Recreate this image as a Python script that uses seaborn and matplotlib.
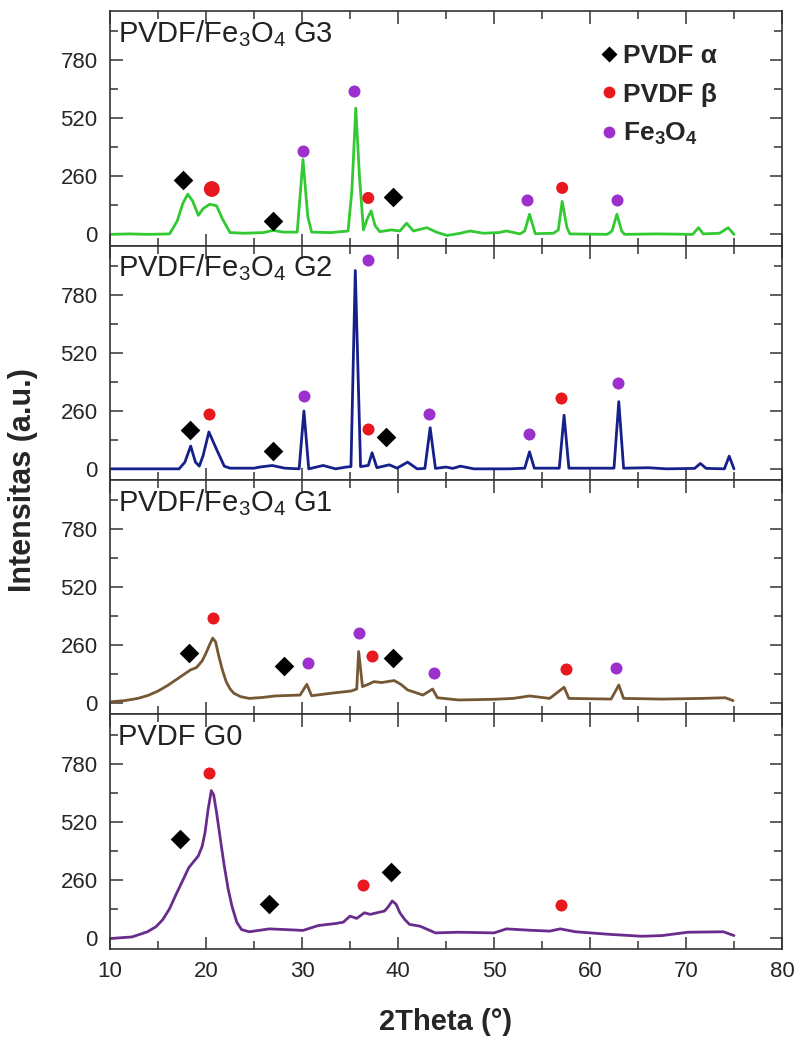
import numpy as np
import pandas as pd
import seaborn as sns
import matplotlib.pyplot as plt
from matplotlib.ticker import MultipleLocator
from matplotlib.lines import Line2D

# XRD curves (2theta, intensity)
g3_x = [10.0, 12, 14, 16.2, 17.0, 17.6, 18.1, 18.6, 19.2, 19.7, 20.4, 21.1, 21.7, 22.5, 24, 26, 27.0, 28, 29.5,
        30.1, 30.6, 31.0, 33, 34.8, 35.2, 35.6, 36.0, 36.4, 36.8, 37.2, 37.6, 38.1, 39.3, 40.2, 40.9, 41.6,
        43.0, 44, 45.1, 46.5, 47.5, 48.9, 50.5, 51.3, 52.7, 53.2, 53.7, 54.3, 56.2, 56.7, 57.1, 57.6, 57.9,
        61.8, 62.3, 62.8, 63.3, 63.6, 67, 70.7, 71.3, 71.8, 73.5, 74.4, 75.0]
g3_y = [0, 2, 0, 2, 60, 140, 180, 150, 85, 115, 135, 128, 70, 8, 5, 8, 18, 10, 10,
        335, 80, 10, 8, 15, 200, 565, 250, 20, 70, 105, 40, 12, 20, 15, 50, 15,
        30, 10, -5, 5, 15, 5, 8, 15, 2, 15, 90, 3, 5, 20, 148, 30, 2,
        0, 15, 90, 15, 0, 2, 0, 30, 2, 5, 30, 0]

g2_x = [10, 17.2, 17.8, 18.4, 18.9, 19.3, 19.7, 20.3, 21.1, 21.9, 22.5, 25.0, 25.6, 26.9, 28.2, 29.7, 30.2,
        30.7, 32.2, 33.5, 34.6, 35.1, 35.55, 36.1, 36.9, 37.3, 37.8, 39.1, 39.9, 41.0, 42.0, 42.8, 43.35,
        43.9, 45.0, 45.7, 46.5, 47.9, 51.6, 53.2, 53.7, 54.2, 56.8, 57.3, 57.8, 62.5, 63.0, 63.5, 66.1, 68,
        70.9, 71.5, 72.1, 74.0, 74.5, 75.0]
g2_y = [0, 0, 30, 102, 30, 12, 60, 165, 87, 12, 3, 3, 8, 15, 3, 0, 259,
        0, 15, 0, 8, 10, 888, 10, 15, 72, 5, 18, 3, 30, 0, 2, 184,
        2, 8, 2, 12, 0, 0, 3, 76, 3, 3, 240, 3, 3, 301, 3, 5, 0,
        2, 24, 2, 0, 57, 0]

g1_x = [10.1, 11.5, 12.9, 14.0, 15.0, 16.0, 17.1, 18.4, 19.0, 19.6, 20.0, 20.4, 20.7, 21.0, 21.3, 21.7, 22.1,
        22.5, 22.9, 23.6, 24.5, 25.8, 27.2, 29.8, 30.5, 31.0, 33.0, 35.1, 35.7, 35.9, 36.3, 36.9, 37.5, 38.3,
        39.0, 39.6, 40.3, 41.0, 42.6, 43.6, 44.1, 46.3, 50.0, 52.0, 53.7, 55.8, 57.3, 57.8, 62.2, 63.0, 63.5,
        67.5, 71.7, 74.1, 74.9]
g1_y = [7, 12, 22, 36, 55, 80, 112, 150, 160, 190, 225, 265, 292, 275, 217, 150, 97,
        65, 45, 30, 22, 26, 33, 37, 85, 34, 45, 55, 64, 232, 75, 85, 97, 93,
        98, 102, 85, 60, 37, 64, 25, 15, 18, 22, 33, 22, 72, 22, 19, 82, 22,
        19, 22, 25, 12]

g0_x = [10.1, 12.3, 13.9, 14.8, 15.5, 16.2, 16.8, 17.5, 18.2, 19.2, 19.6, 19.9, 20.2, 20.55, 20.8, 21.1,
        21.5, 21.9, 22.3, 22.7, 23.2, 23.7, 24.5, 26.6, 28.2, 30.1, 31.7, 33.5, 34.3, 35.0, 35.7, 36.5, 37.1,
        38.6, 39.0, 39.4, 39.8, 40.2, 40.7, 41.2, 42.3, 43.1, 43.9, 46.3, 50.0, 51.3, 53.7, 55.8, 56.9,
        58.5, 62.2, 65.4, 67.5, 70.2, 73.9, 75.0]
g0_y = [-3, 4, 27, 50, 82, 130, 187, 250, 314, 367, 410, 472, 570, 659, 640, 561,
        440, 322, 220, 142, 70, 37, 27, 40, 37, 33, 55, 64, 70, 97, 87, 112, 105,
        120, 140, 165, 150, 112, 82, 60, 52, 37, 22, 25, 22, 40, 34, 30, 40,
        27, 15, 7, 10, 25, 27, 10]

# phase markers per sample: PVDF alpha, PVDF beta, Fe3O4
g3_alpha_x, g3_alpha_y = [17.6, 27.0, 39.5], [243, 62, 167]
g3_beta_x, g3_beta_y = [20.6, 36.9, 57.1], [203, 163, 208]
g3_fe_x, g3_fe_y = [30.1, 35.4, 53.4, 62.8], [373, 642, 152, 156]

g2_alpha_x, g2_alpha_y = [18.3, 27.0, 38.8], [174, 82, 142]
g2_beta_x, g2_beta_y = [20.3, 36.9, 57.0], [247, 180, 316]
g2_fe_x, g2_fe_y = [30.25, 36.9, 43.25, 53.6, 62.9], [326, 937, 244, 154, 386]

g1_alpha_x, g1_alpha_y = [18.2, 28.1, 39.5], [225, 168, 205]
g1_beta_x, g1_beta_y = [20.7, 37.25, 57.5], [382, 214, 154]
g1_fe_x, g1_fe_y = [30.6, 35.9, 43.8, 62.7], [180, 314, 138, 157]

g0_alpha_x, g0_alpha_y = [17.3, 26.6, 39.3], [442, 150, 296]
g0_beta_x, g0_beta_y = [20.3, 36.4, 57.0], [738, 237, 147]
g0_fe_x, g0_fe_y = [], []

labels = ['PVDF/Fe$_3$O$_4$ G3', 'PVDF/Fe$_3$O$_4$ G2', 'PVDF/Fe$_3$O$_4$ G1', 'PVDF G0']
y_ticks = [0, 260, 520, 780]

sns.set_style('ticks')
plt.rcParams['font.family'] = ['Liberation Sans', 'DejaVu Sans']
plt.rcParams['mathtext.fontset'] = 'custom'
plt.rcParams['mathtext.rm'] = 'Liberation Sans'
plt.rcParams['mathtext.bf'] = 'Liberation Sans:bold'
plt.rcParams['mathtext.it'] = 'Liberation Sans:italic'
plt.rcParams['mathtext.default'] = 'regular'

line_colors = ['#33c933', '#15208a', '#765733', '#6a2c8c']
red = '#e8181e'
violet = '#9b30cc'

curves = [(g3_x, g3_y), (g2_x, g2_y), (g1_x, g1_y), (g0_x, g0_y)]
marks = [
    (g3_alpha_x, g3_alpha_y, g3_beta_x, g3_beta_y, g3_fe_x, g3_fe_y),
    (g2_alpha_x, g2_alpha_y, g2_beta_x, g2_beta_y, g2_fe_x, g2_fe_y),
    (g1_alpha_x, g1_alpha_y, g1_beta_x, g1_beta_y, g1_fe_x, g1_fe_y),
    (g0_alpha_x, g0_alpha_y, g0_beta_x, g0_beta_y, g0_fe_x, g0_fe_y),
]

fig = plt.figure(figsize=(7.99, 10.41), dpi=100)
axes = fig.subplots(4, 1, sharex=True)
fig.subplots_adjust(left=0.1377, right=0.9787, top=0.9894, bottom=0.0884, hspace=0)

for i, ax in enumerate(axes):
    cx, cy = curves[i]
    sns.lineplot(x=cx, y=cy, ax=ax, color=line_colors[i], lw=2.0, estimator=None, sort=False,
                 solid_joinstyle='round')
    ax_, ay_, bx_, by_, fx_, fy_ = marks[i]
    sns.scatterplot(x=ax_, y=ay_, ax=ax, marker='D', s=100, color='black', linewidth=0, zorder=5)
    # the first beta dot of G3 is drawn a little larger in the original
    beta_s = [130, 75, 75] if i == 0 else 75
    ax.scatter(bx_, by_, marker='o', s=beta_s, color=red, linewidths=0, zorder=5)
    if len(fx_):
        sns.scatterplot(x=fx_, y=fy_, ax=ax, marker='o', s=75, color=violet, linewidth=0, zorder=5)

    ax.set_xlim(10, 80)
    ax.set_ylim(-50, 1000)
    ax.set_yticks(y_ticks)
    ax.yaxis.set_minor_locator(MultipleLocator(130))
    ax.xaxis.set_major_locator(MultipleLocator(10))
    ax.xaxis.set_minor_locator(MultipleLocator(5))
    ax.tick_params(which='both', direction='in', top=True, right=True, width=1.1, color='#333333',
                   labelsize=16, pad=9)
    ax.tick_params(which='major', length=9)
    ax.tick_params(which='minor', length=5.5)
    for sp in ax.spines.values():
        sp.set_linewidth(1.2)
        sp.set_color('#333333')
    ax.set_xlabel('')
    ax.set_ylabel('')
    ax.text(0.012, 0.905, labels[i], transform=ax.transAxes, fontsize=21, va='center', ha='left',
            color='#222222')

handles = [
    Line2D([], [], ls='none', marker='D', ms=8, color='black', mec='none'),
    Line2D([], [], ls='none', marker='o', ms=8.5, color=red, mec='none'),
    Line2D([], [], ls='none', marker='o', ms=8.5, color=violet, mec='none'),
]
leg = axes[0].legend(handles, ['PVDF α', 'PVDF β', r'$\mathbf{Fe_3O_4}$'], loc='upper left',
                     bbox_to_anchor=(0.711, 0.915), frameon=False, borderpad=0, handlelength=0.6,
                     handletextpad=0.25, labelspacing=0.55, prop={'weight': 'bold', 'size': 19})

fig.text(0.029, 0.539, 'Intensitas (a.u.)', rotation=90, fontsize=22, fontweight='bold',
         ha='center', va='center')
fig.text(0.558, 0.018, '2Theta (°)', fontsize=21, fontweight='bold', ha='center', va='center')

fig.savefig('out.png', dpi=100)
